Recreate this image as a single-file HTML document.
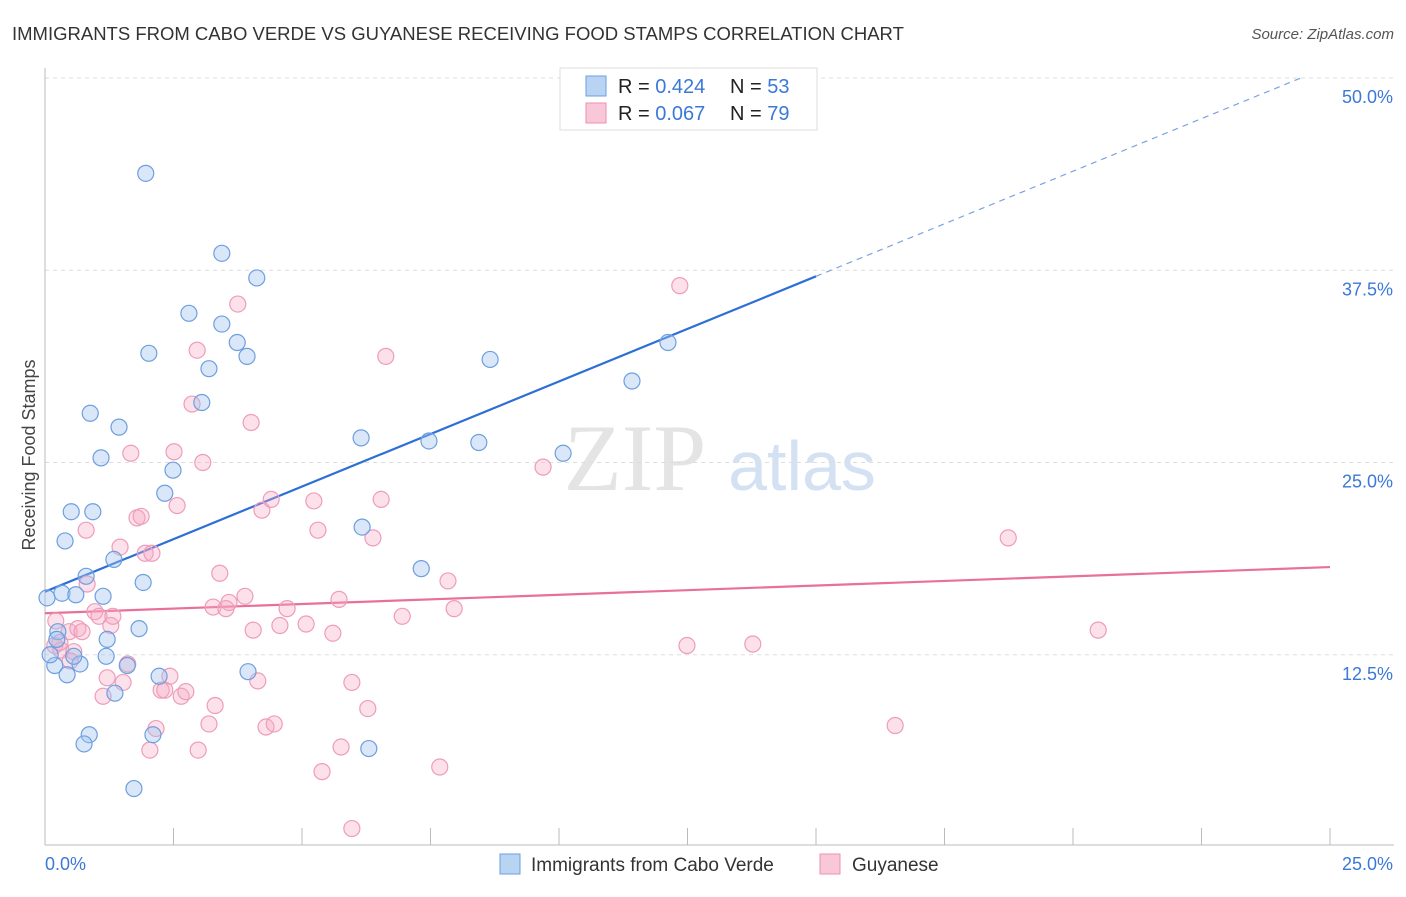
<!DOCTYPE html>
<html><head><meta charset="utf-8"><style>
body{margin:0;background:#fff;font-family:"Liberation Sans",sans-serif;}
</style></head><body>
<svg id="chart" width="1406" height="892" xmlns="http://www.w3.org/2000/svg" font-family="Liberation Sans, sans-serif">
<text x="12" y="40" font-size="18.5" fill="#333">IMMIGRANTS FROM CABO VERDE VS GUYANESE RECEIVING FOOD STAMPS CORRELATION CHART</text>
<text x="1394" y="39" font-size="15" fill="#555" font-style="italic" text-anchor="end">Source: ZipAtlas.com</text>
<text x="35" y="455" font-size="18" fill="#444" transform="rotate(-90 35 455)" text-anchor="middle">Receiving Food Stamps</text>
<text x="635" y="490" font-size="95" fill="#e4e4e4" style="font-family:'Liberation Serif',serif" text-anchor="middle">ZIP</text>
<text x="802" y="490" font-size="70" fill="#d3e1f3" text-anchor="middle">atlas</text>
<g id="grid"></g><g id="axes"></g><g id="lines"></g><g id="pts"></g>
<g>
<rect x="560" y="68" width="257" height="62" fill="#fff" stroke="#ddd"/>
<rect x="586" y="76" width="20" height="20" fill="#b9d3f3" stroke="#6a9fe0"/>
<rect x="586" y="103" width="20" height="20" fill="#f9c8d8" stroke="#ec8fb0"/>
<text x="618" y="93" font-size="20" fill="#222">R = <tspan fill="#3b78d8">0.424</tspan></text>
<text x="730" y="93" font-size="20" fill="#222">N = <tspan fill="#3b78d8">53</tspan></text>
<text x="618" y="120" font-size="20" fill="#222">R = <tspan fill="#3b78d8">0.067</tspan></text>
<text x="730" y="120" font-size="20" fill="#222">N = <tspan fill="#3b78d8">79</tspan></text>
</g>
<g>
<rect x="500" y="854" width="20" height="20" fill="#b9d3f3" stroke="#6a9fe0"/>
<text x="531" y="871" font-size="19" fill="#333">Immigrants from Cabo Verde</text>
<rect x="820" y="854" width="20" height="20" fill="#f9c8d8" stroke="#ec8fb0"/>
<text x="852" y="871" font-size="19" fill="#333">Guyanese</text>
</g>
</svg>
<script>
const blueX=[.04,.33,.60,1.13,.80,.39,.51,.93,1.34,1.91,2.33,2.49,1.09,1.44,.88,2.02,1.96,2.80,3.44,4.12,3.44,3.74,3.93,3.19,3.05,1.83,1.21,.25,1.19,.68,.19,.43,.56,1.60,1.36,2.22,3.95,.86,.76,2.10,1.73,6.30,6.15,6.17,7.47,8.44,7.32,8.66,10.08,11.42,12.12,.10,.23];
const blueY=[16.2,16.5,16.4,16.3,17.6,19.9,21.8,21.8,18.7,17.2,23.0,24.5,25.3,27.3,28.2,32.1,43.8,34.7,38.6,37.0,34.0,32.8,31.9,31.1,28.9,14.2,13.5,14.0,12.4,11.9,11.8,11.2,12.4,11.8,10.0,11.1,11.4,7.3,6.7,7.3,3.8,6.4,26.6,20.8,26.4,26.3,18.1,31.7,25.6,30.3,32.8,12.5,13.5];
const pinkX=[.21,.82,.80,.47,.64,.19,.31,.56,.49,.72,.97,1.05,1.28,1.32,1.46,1.79,1.87,1.95,2.08,1.67,2.51,2.57,2.86,2.96,3.07,3.75,4.01,3.40,3.27,3.52,3.58,3.89,4.05,4.22,4.40,4.57,4.71,5.08,5.23,5.31,5.72,5.60,6.38,6.54,6.95,7.84,7.96,6.63,9.69,12.35,12.49,13.77,16.54,18.74,20.49,1.13,1.21,1.52,1.61,2.16,2.04,2.26,2.33,2.43,2.65,2.74,2.98,3.19,3.31,4.14,4.30,4.46,5.76,5.39,5.97,6.28,5.97,7.68,.29];
const pinkY=[14.7,17.1,20.6,14.0,14.2,13.1,12.8,12.7,12.1,14.0,15.3,15.0,14.4,15.0,19.5,21.4,21.5,19.1,19.1,25.6,25.7,22.2,28.8,32.3,25.0,35.3,27.6,17.8,15.6,15.5,15.9,16.3,14.1,21.9,22.6,14.4,15.5,14.5,22.5,20.6,16.1,13.9,20.1,22.6,15.0,17.3,15.5,31.9,24.7,36.5,13.1,13.2,7.9,20.1,14.1,9.8,11.0,10.7,11.9,7.7,6.3,10.2,10.2,11.1,9.8,10.1,6.3,8.0,9.2,10.8,7.8,8.0,6.5,4.9,10.7,9.0,1.2,5.2,13.3];
const yTicks=[12.5,25,37.5,50];
const yTickLabels=["12.5%","25.0%","37.5%","50.0%"];
const xTicks=[0,2.5,5,7.5,10,12.5,15,17.5,20,22.5,25];
const blueTrend=[16.6,1.367];
const pinkTrend=[15.2,0.12];
const NS="http://www.w3.org/2000/svg";
const sx=v=>45+v*51.4, sy=v=>847-v*15.38;
function mk(tag,attrs,parent){const e=document.createElementNS(NS,tag);for(const k in attrs)e.setAttribute(k,attrs[k]);document.getElementById(parent).appendChild(e);return e;}
yTicks.forEach((t,i)=>{
 const l=mk('line',{x1:45,x2:1394,y1:sy(t),y2:sy(t),stroke:'#ddd','stroke-dasharray':'4,4'},'grid');
 
 
 const tx=mk('text',{x:1393,y:sy(t)+25,'font-size':18,fill:'#3b78d8','text-anchor':'end'},'grid');
 tx.textContent=yTickLabels[i];
 
 
});
mk('line',{x1:45,x2:45,y1:68,y2:845,stroke:'#bbb'},'axes');
mk('line',{x1:45,x2:1394,y1:845,y2:845,stroke:'#bbb'},'axes');
xTicks.forEach(t=>{
 const l=mk('line',{x1:sx(t),x2:sx(t),y1:828,y2:845,stroke:'#bbb'},'axes');
 
 
});
const x0=mk('text',{x:45,y:870,'font-size':18,fill:'#3b78d8'},'axes');x0.textContent='0.0%';


const x1=mk('text',{x:1393,y:870,'font-size':18,fill:'#3b78d8','text-anchor':'end'},'axes');x1.textContent='25.0%';


const bl=mk('line',{x1:sx(0),y1:sy(blueTrend[0]),x2:sx(15),y2:sy(blueTrend[0]+15*blueTrend[1]),stroke:'#2d6fd6','stroke-width':2.2},'lines');


const xe=(50-blueTrend[0])/blueTrend[1];
const bd=mk('line',{x1:sx(15),y1:sy(blueTrend[0]+15*blueTrend[1]),x2:sx(xe),y2:sy(50),stroke:'#7aa3e0','stroke-width':1.2,'stroke-dasharray':'6,5'},'lines');


const pl=mk('line',{x1:sx(0),y1:sy(pinkTrend[0]),x2:sx(25),y2:sy(pinkTrend[0]+25*pinkTrend[1]),stroke:'#e8709a','stroke-width':2.2},'lines');


pinkX.forEach((x,i)=>{
 const c=mk('circle',{cx:sx(x),cy:sy(pinkY[i]),r:8,fill:'rgba(246,170,196,0.35)',stroke:'#ee9cba','stroke-width':1.2},'pts');
 
 
});
blueX.forEach((x,i)=>{
 const c=mk('circle',{cx:sx(x),cy:sy(blueY[i]),r:8,fill:'rgba(160,195,240,0.4)',stroke:'#6d9fdf','stroke-width':1.2},'pts');
 
 
});
</script>
</body></html>
